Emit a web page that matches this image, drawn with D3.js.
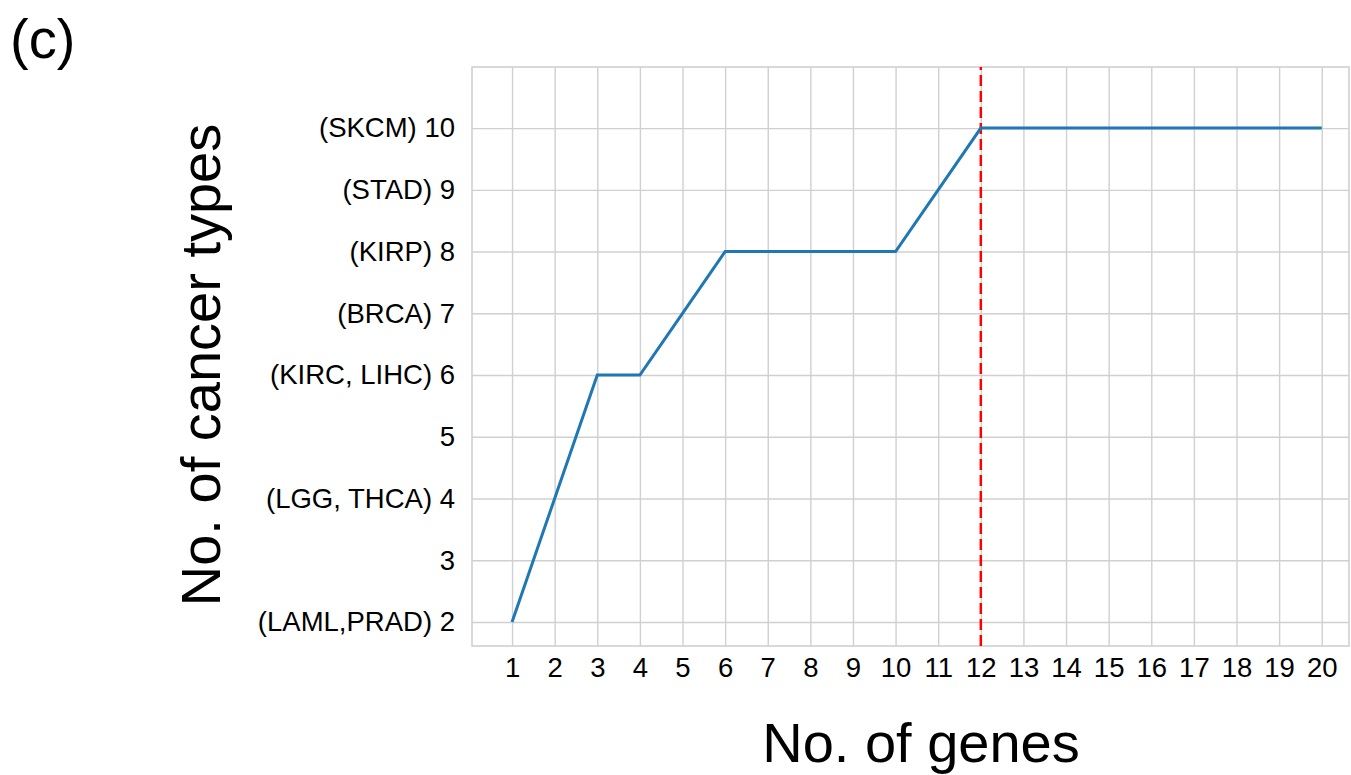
<!DOCTYPE html>
<html lang="en">
  <head>
    <style>
      body { margin: 0; background: #fff; }
      svg text { font-family: "Liberation Sans", Arial, sans-serif; fill: #000; }
      .grid line { stroke: #d0d0d0; stroke-width: 1.4; }
      .grid path { display: none; }
    </style>
    <script src="https://d3js.org/d3.v7.min.js"></script>
  </head>
  <body>
    <svg width="1351" height="775"></svg>
    <script>
      const genes = [1, 2, 3, 4, 5, 6, 7, 8, 9, 10, 11, 12, 13, 14, 15, 16, 17, 18, 19, 20];
      const cancerTypes = [2, 4, 6, 6, 7, 8, 8, 8, 8, 8, 9, 10, 10, 10, 10, 10, 10, 10, 10, 10];
      const yTicks = [2, 3, 4, 5, 6, 7, 8, 9, 10];
      const yTickLabels = {
        2: "(LAML,PRAD) 2",
        3: "3",
        4: "(LGG, THCA) 4",
        5: "5",
        6: "(KIRC, LIHC) 6",
        7: "(BRCA) 7",
        8: "(KIRP) 8",
        9: "(STAD) 9",
        10: "(SKCM) 10"
      };
      const cutoff = 12;

      const svg = d3.select("svg");
      const pLeft = 472, pRight = 1349, pTop = 67, pBottom = 646;

      const x = d3.scaleLinear().domain([0.06, 20.64]).range([pLeft, pRight]);
      const y = d3.scaleLinear().domain([1.61, 10.99]).range([pBottom, pTop]);

      // grid
      svg.append("g")
        .attr("class", "grid")
        .attr("transform", "translate(0," + pBottom + ")")
        .call(d3.axisBottom(x).tickValues(genes).tickSize(-(pBottom - pTop)).tickFormat(""));
      svg.append("g")
        .attr("class", "grid")
        .attr("transform", "translate(" + pLeft + ",0)")
        .call(d3.axisLeft(y).tickValues(yTicks).tickSize(-(pRight - pLeft)).tickFormat(""));

      // frame
      svg.append("rect")
        .attr("x", pLeft).attr("y", pTop)
        .attr("width", pRight - pLeft).attr("height", pBottom - pTop)
        .attr("fill", "none").attr("stroke", "#d0d0d0").attr("stroke-width", 1.6);

      // tick labels
      const xAxis = svg.append("g")
        .attr("transform", "translate(0," + pBottom + ")")
        .call(d3.axisBottom(x).tickValues(genes).tickSize(0));
      xAxis.select(".domain").remove();
      xAxis.selectAll("text").attr("font-size", 27.5).attr("y", 31).attr("dy", null);

      const yAxis = svg.append("g")
        .attr("transform", "translate(" + pLeft + ",0)")
        .call(d3.axisLeft(y).tickValues(yTicks).tickSize(0).tickPadding(17)
          .tickFormat(d => yTickLabels[d]));
      yAxis.select(".domain").remove();
      yAxis.selectAll("text").attr("font-size", 27.5);

      // cutoff line (drawn bottom to top)
      svg.append("line")
        .attr("x1", x(cutoff)).attr("x2", x(cutoff))
        .attr("y1", y(1.61)).attr("y2", y(10.99))
        .attr("stroke", "red").attr("stroke-width", 2.5)
        .attr("stroke-dasharray", "11,5");

      // data line
      const line = d3.line()
        .x((d, i) => x(genes[i]))
        .y(d => y(d));
      svg.append("path")
        .datum(cancerTypes)
        .attr("d", line)
        .attr("fill", "none")
        .attr("stroke", "#1f77b4")
        .attr("stroke-width", 3);

      // labels
      svg.append("text")
        .attr("x", 921).attr("y", 762)
        .attr("text-anchor", "middle")
        .attr("font-size", 56)
        .text("No. of genes");

      svg.append("text")
        .attr("transform", "translate(220,365) rotate(-90)")
        .attr("text-anchor", "middle")
        .attr("font-size", 56)
        .text("No. of cancer types");

      svg.append("text")
        .attr("x", 10).attr("y", 58)
        .attr("font-size", 56)
        .text("(c)");
    </script>
  </body>
</html>
